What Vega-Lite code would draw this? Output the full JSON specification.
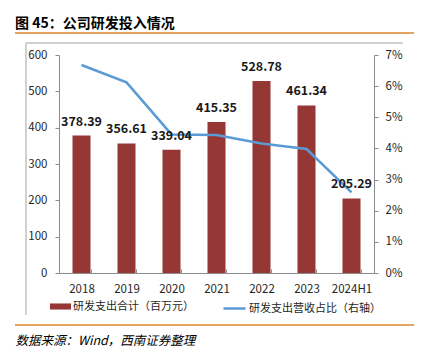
{
  "$schema": "https://vega.github.io/schema/vega-lite/v6.json",
  "autosize": "none",
  "width": 315,
  "height": 218,
  "padding": {"left": 59, "top": 55, "right": 48, "bottom": 82},
  "background": "white",
  "config": {
    "view": {"stroke": null},
    "font": "Noto Sans CJK SC",
    "axis": {"labelFont": "Noto Sans CJK SC", "titleFont": "Noto Sans CJK SC", "grid": false, "labelColor": "#262626", "domainColor": "#8c8c8c", "tickColor": "#8c8c8c"},
    "legend": {"labelFont": "Noto Sans CJK SC"}
  },
  "title": {
    "text": "图 45：公司研发投入情况",
    "anchor": "start",
    "frame": "group",
    "dx": -44,
    "dy": 19,
    "offset": 20,
    "fontSize": 14,
    "fontWeight": "bold",
    "color": "#000000",
    "font": "Noto Sans CJK SC"
  },
  "data": {
    "values": [
      {"year": "2018", "amount": 378.39, "ratio": 0.0668},
      {"year": "2019", "amount": 356.61, "ratio": 0.0612},
      {"year": "2020", "amount": 339.04, "ratio": 0.0445},
      {"year": "2021", "amount": 415.35, "ratio": 0.0443},
      {"year": "2022", "amount": 528.78, "ratio": 0.0416},
      {"year": "2023", "amount": 461.34, "ratio": 0.0398},
      {"year": "2024H1", "amount": 205.29, "ratio": 0.0259}
    ]
  },
  "encoding": {
    "x": {
      "field": "year",
      "type": "nominal",
      "sort": null,
      "scale": {"paddingInner": 0.6, "paddingOuter": 0.3},
      "axis": {
        "labelAngle": 0,
        "labelFontSize": 11.5,
        "labelPadding": 14,
        "tickBand": "extent",
        "tickSize": -4,
        "title": "数据来源：Wind，西南证券整理",
        "titleX": -44,
        "titleY": 67,
        "titleAlign": "left",
        "titleAnchor": "start",
        "titleBaseline": "middle",
        "titleFontStyle": "italic",
        "titleFontWeight": "normal",
        "titleFontSize": 12.5,
        "titleColor": "#000000"
      }
    }
  },
  "layer": [
    {
      "mark": {"type": "rule", "color": "#E3A45E", "strokeWidth": 1.5, "clip": false},
      "encoding": {"x": {"value": -44}, "x2": {"value": 355}, "y": {"value": -22}}
    },
    {
      "mark": {"type": "rule", "color": "#E3A45E", "strokeWidth": 1.5, "clip": false},
      "encoding": {"x": {"value": -44}, "x2": {"value": 355}, "y": {"value": 270}}
    },
    {
      "mark": {"type": "rule", "color": "#d0d0d0", "strokeWidth": 1, "clip": false},
      "encoding": {"x": {"value": -33}, "x2": {"value": 344}, "y": {"value": -12}}
    },
    {
      "mark": {"type": "rule", "color": "#d0d0d0", "strokeWidth": 1, "clip": false},
      "encoding": {"x": {"value": -33}, "y": {"value": -12}, "y2": {"value": 260}}
    },
    {
      "mark": {"type": "bar", "stroke": null},
      "encoding": {
        "y": {
          "field": "amount",
          "type": "quantitative",
          "scale": {"domain": [0, 600]},
          "axis": {"orient": "left", "values": [0, 100, 200, 300, 400, 500, 600], "title": null, "labelFontSize": 11.5, "tickSize": 4, "labelPadding": 8}
        },
        "fill": {
          "datum": "研发支出合计（百万元）",
          "scale": {"range": ["#953735"]},
          "legend": {
            "title": null,
            "orient": "none",
            "legendX": -9,
            "legendY": 241,
            "symbolType": "M-1,-0.29H1V0.29H-1Z",
            "symbolSize": 441,
            "symbolStrokeWidth": 0,
            "labelFontSize": 11,
            "labelOffset": 2,
            "labelColor": "#262626"
          }
        }
      }
    },
    {
      "mark": {"type": "line", "strokeWidth": 2.5},
      "encoding": {
        "y": {
          "field": "ratio",
          "type": "quantitative",
          "scale": {"domain": [0, 0.07]},
          "axis": {"orient": "right", "values": [0, 0.01, 0.02, 0.03, 0.04, 0.05, 0.06, 0.07], "format": ".0%", "title": null, "labelFontSize": 11.5, "tickSize": 4, "labelPadding": 7}
        },
        "stroke": {
          "datum": "研发支出营收占比（右轴）",
          "scale": {"range": ["#5B9BD5"]},
          "legend": {
            "title": null,
            "orient": "none",
            "legendX": 163,
            "legendY": 241,
            "symbolType": "stroke",
            "symbolSize": 484,
            "symbolStrokeWidth": 2.5,
            "labelFontSize": 11,
            "labelOffset": 2,
            "labelColor": "#262626"
          }
        }
      }
    },
    {
      "mark": {"type": "text", "fontSize": 12.5, "fontWeight": "bold", "color": "#1a1a1a", "baseline": "alphabetic", "dy": -10},
      "encoding": {
        "y": {"field": "amount", "type": "quantitative", "scale": {"domain": [0, 600]}, "axis": null},
        "text": {"field": "amount", "type": "quantitative", "format": ".2f"}
      }
    }
  ],
  "resolve": {"scale": {"y": "independent", "fill": "independent", "stroke": "independent"}, "legend": {"fill": "independent", "stroke": "independent"}}
}
